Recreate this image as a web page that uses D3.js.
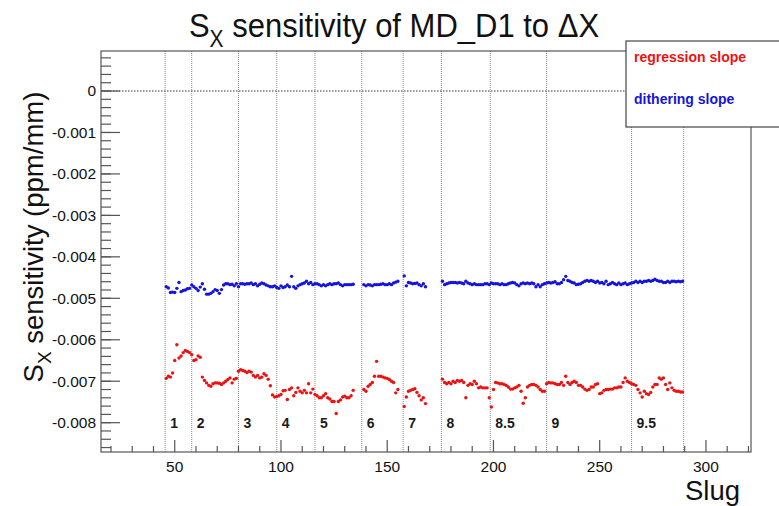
<!DOCTYPE html>
<html lang="en">
<head>
<meta charset="UTF-8">
<script src="https://cdnjs.cloudflare.com/ajax/libs/d3/7.8.5/d3.min.js"></script>
<style>
body { margin: 0; background: white; }
svg { display: block; font-family: "Liberation Sans", Arial, Helvetica, sans-serif; }
</style>
</head>
<body>
<script>
// slope values in units of 1e-3 ppm/mm, one point per slug, runs start at runStart[k]
var runStart = [46, 139, 158, 176];

var regression1 = [
  -6.93, -6.88, -6.90, -6.80, -6.50, -6.12, -6.44, -6.39, -6.31, -6.26,
  -6.28, -6.31, -6.36, -6.50, -6.48, -6.39, -6.42, -6.90, -6.98, -7.04,
  -7.10, -7.12, -7.06, -7.04, -7.04, -7.05, -7.08, -7.04, -7.00, -6.96,
  -6.92, -7.04, -6.95, -6.93, -6.76, -6.72, -6.74, -6.76, -6.79, -6.76,
  -6.78, -6.86, -6.90, -6.86, -6.92, -6.90, -6.82, -6.86, -6.95, -7.11,
  -7.33, -7.38, -7.37, -7.35, -7.32, -7.23, -7.22, -7.44, -7.20, -7.16,
  -7.35, -7.27, -7.16, -7.24, -7.28, -7.22, -7.28, -7.06, -7.28, -7.19,
  -7.32, -7.35, -7.40, -7.40, -7.35, -7.30, -7.40, -7.43, -7.49, -7.49,
  -7.78, -7.49, -7.45, -7.38, -7.36, -7.40, -7.40, -7.35, -7.22];
var regression2 = [
  -7.20, -7.24, -7.12, -7.08, -7.03, -6.88, -6.52, -6.88, -6.88, -6.90,
  -6.92, -6.93, -6.96, -7.00, -7.03, -7.28, -7.20];
var regression3 = [
  -7.61, -7.38, -7.24, -7.22, -7.20, -7.18, -7.27, -7.35, -7.45, -7.40, -7.54];
var regression4 = [
  -6.95, -7.03, -7.06, -7.03, -7.06, -7.00, -7.03, -6.98, -7.00, -6.98,
  -7.03, -7.40, -7.10, -7.06, -7.08, -7.00, -7.06, -7.16, -7.14, -7.16,
  -7.16, -7.16, -7.40, -7.62, -7.20, -7.03, -7.04, -7.06, -7.06, -7.08,
  -7.10, -7.14, -7.19, -7.19, -7.16, -7.14, -7.10, -7.24, -7.53, -7.40,
  -7.14, -7.10, -7.08, -7.08, -7.10, -7.14, -7.20, -7.24, -7.24, -7.06,
  -7.03, -7.04, -7.04, -7.06, -7.08,
  -7.08, -7.03, -7.10, -6.88, -7.03, -7.08, -7.03, -7.00, -7.03, -7.10,
  -7.10, -7.14, -7.19, -7.22, -7.20, -7.14, -7.14, -7.08, -7.06, -7.30,
  -7.28, -7.22, -7.20, -7.20, -7.19, -7.19, -7.16, -7.16, -7.14, -7.14,
  -7.03, -6.92, -7.00, -7.03, -7.06, -7.08, -7.10, -7.20, -7.28, -7.38,
  -7.24, -7.30, -7.32, -7.27, -7.14, -7.08, -7.08, -6.92, -6.95, -6.92,
  -7.08, -7.20, -7.04, -7.16, -7.22, -7.24, -7.24, -7.26, -7.26];

var dithering1 = [
  -4.72, -4.75, -4.86, -4.85, -4.86, -4.76, -4.62, -4.84, -4.81, -4.80,
  -4.77, -4.76, -4.68, -4.72, -4.76, -4.81, -4.73, -4.65, -4.78, -4.90,
  -4.90, -4.88, -4.84, -4.79, -4.81, -4.88, -4.79, -4.68, -4.65, -4.65,
  -4.67, -4.66, -4.70, -4.65, -4.72, -4.65, -4.65, -4.66, -4.65, -4.65,
  -4.63, -4.67, -4.65, -4.70, -4.66, -4.63, -4.65, -4.68, -4.70, -4.72,
  -4.72, -4.70, -4.74, -4.76, -4.70, -4.74, -4.72, -4.68, -4.72, -4.47,
  -4.72, -4.76, -4.70, -4.67, -4.65, -4.63, -4.59, -4.65, -4.62, -4.67,
  -4.65, -4.65, -4.67, -4.70, -4.67, -4.70, -4.67, -4.65, -4.67, -4.65,
  -4.65, -4.63, -4.67, -4.70, -4.67, -4.67, -4.67, -4.67, -4.66];
var dithering2 = [
  -4.67, -4.70, -4.67, -4.68, -4.70, -4.67, -4.67, -4.67, -4.66, -4.65,
  -4.67, -4.67, -4.65, -4.67, -4.63, -4.61, -4.59];
var dithering3 = [
  -4.46, -4.70, -4.62, -4.63, -4.65, -4.64, -4.63, -4.67, -4.70, -4.65, -4.72];
var dithering4 = [
  -4.59, -4.67, -4.65, -4.63, -4.62, -4.62, -4.62, -4.63, -4.62, -4.63,
  -4.65, -4.59, -4.63, -4.65, -4.67, -4.65, -4.67, -4.67, -4.67, -4.67,
  -4.65, -4.65, -4.67, -4.63, -4.65, -4.65, -4.65, -4.67, -4.65, -4.67,
  -4.67, -4.65, -4.63, -4.62, -4.63, -4.67, -4.70, -4.65, -4.63, -4.65,
  -4.63, -4.65, -4.63, -4.65, -4.72, -4.67, -4.72, -4.67, -4.65, -4.63,
  -4.62, -4.63, -4.62, -4.60, -4.65,
  -4.65, -4.62, -4.55, -4.47, -4.57, -4.59, -4.62, -4.63, -4.67, -4.66,
  -4.65, -4.62, -4.59, -4.57, -4.59, -4.57, -4.59, -4.62, -4.59, -4.63,
  -4.62, -4.65, -4.59, -4.67, -4.65, -4.62, -4.65, -4.67, -4.63, -4.67,
  -4.65, -4.63, -4.67, -4.65, -4.63, -4.62, -4.59, -4.62, -4.59, -4.62,
  -4.59, -4.59, -4.57, -4.59, -4.57, -4.54, -4.57, -4.59, -4.59, -4.62,
  -4.62, -4.59, -4.62, -4.59, -4.59, -4.60, -4.59, -4.60, -4.59];

var slugBounds = [45.5, 58, 80, 98, 116, 138, 157.5, 175.5, 198.5, 225, 265, 289.5];
var slugLabels = ["1", "2", "3", "4", "5", "6", "7", "8", "8.5", "9", "9.5"];
var xTicks = [50, 100, 150, 200, 250, 300];
var yTicks = [0, -0.001, -0.002, -0.003, -0.004, -0.005, -0.006, -0.007, -0.008];

var margin = {top: 51, left: 101},
    width = 650,
    height = 401;

var x = d3.scaleLinear().domain([15.3, 321.2]).range([0, width]);
var y = d3.scaleLinear().domain([-0.008707, 0.000965]).range([height, 0]);

function toPoints(runs) {
  var pts = [];
  runs.forEach(function(vals, k) {
    vals.forEach(function(v, i) {
      pts.push({slug: runStart[k] + i, value: v * 1e-3});
    });
  });
  return pts;
}
var regPts = toPoints([regression1, regression2, regression3, regression4]);
var ditPts = toPoints([dithering1, dithering2, dithering3, dithering4]);

var svg = d3.select("body").append("svg")
    .attr("width", 779)
    .attr("height", 506);

// title
var title = svg.append("text")
    .attr("transform", "translate(394,37) scale(1,1.1)")
    .attr("text-anchor", "middle")
    .style("font-size", "31px")
    .attr("fill", "#111");
title.append("tspan").text("S");
title.append("tspan").attr("dy", 9).style("font-size", "21px").text("X");
title.append("tspan").attr("dy", -9).text(" sensitivity of MD_D1 to \u0394X");

var g = svg.append("g")
    .attr("transform", "translate(" + margin.left + "," + margin.top + ")");

// slug boundaries
g.selectAll(".bound")
  .data(slugBounds)
  .enter().append("line")
    .attr("class", "bound")
    .attr("x1", d => x(d)).attr("x2", d => x(d))
    .attr("y1", 0).attr("y2", height)
    .attr("stroke", "#8a8a8a")
    .attr("stroke-width", 1)
    .attr("stroke-dasharray", "1,1");

// zero line
g.append("line")
    .attr("x1", 0).attr("x2", width)
    .attr("y1", y(0)).attr("y2", y(0))
    .attr("stroke", "#333")
    .attr("stroke-width", 1)
    .attr("stroke-dasharray", "1.5,1.5");

g.selectAll(".slabel")
  .data(slugLabels)
  .enter().append("text")
    .attr("class", "slabel")
    .attr("x", (d, i) => x(slugBounds[i]) + 5)
    .attr("y", 377)
    .style("font-size", "14px")
    .style("font-weight", "bold")
    .attr("fill", "#1a1a1a")
    .text(d => d);

g.selectAll(".reg")
  .data(regPts)
  .enter().append("circle")
    .attr("class", "reg")
    .attr("cx", d => x(d.slug))
    .attr("cy", d => y(d.value))
    .attr("r", 1.7)
    .attr("fill", "#ee1111");

g.selectAll(".dit")
  .data(ditPts)
  .enter().append("circle")
    .attr("class", "dit")
    .attr("cx", d => x(d.slug))
    .attr("cy", d => y(d.value))
    .attr("r", 1.7)
    .attr("fill", "#1414dd");

// frame
g.append("rect")
    .attr("width", width)
    .attr("height", height)
    .attr("fill", "none")
    .attr("stroke", "#555")
    .attr("stroke-width", 1.2);

// x ticks (inside, pointing up)
var xMinor = d3.range(2, 33).map(i => i * 10);
g.selectAll(".xminor")
  .data(xMinor)
  .enter().append("line")
    .attr("x1", d => x(d)).attr("x2", d => x(d))
    .attr("y1", height)
    .attr("y2", d => xTicks.indexOf(d) >= 0 ? height - 12 : height - 6)
    .attr("stroke", "#555")
    .attr("stroke-width", 1.2);

g.selectAll(".xlab")
  .data(xTicks)
  .enter().append("text")
    .attr("x", d => x(d))
    .attr("y", height + 20)
    .attr("text-anchor", "middle")
    .style("font-size", "15.5px")
    .attr("fill", "#111")
    .text(d => d);

// y ticks (inside, pointing right)
var yMinor = d3.range(-43, 5).map(i => i * 0.0002);
g.selectAll(".yminor")
  .data(yMinor)
  .enter().append("line")
    .attr("x1", 0)
    .attr("x2", 10)
    .attr("y1", d => y(d)).attr("y2", d => y(d))
    .attr("stroke", "#555")
    .attr("stroke-width", 1.2);

g.selectAll(".ymajor")
  .data(yTicks)
  .enter().append("line")
    .attr("x1", 0)
    .attr("x2", 19)
    .attr("y1", d => y(d)).attr("y2", d => y(d))
    .attr("stroke", "#555")
    .attr("stroke-width", 1.2);

g.selectAll(".ylab")
  .data(yTicks)
  .enter().append("text")
    .attr("x", -5)
    .attr("y", d => y(d))
    .attr("dy", "0.35em")
    .attr("text-anchor", "end")
    .style("font-size", "15.5px")
    .attr("fill", "#111")
    .text(d => d === 0 ? "0" : d.toFixed(3));

// axis titles
var ytitle = svg.append("text")
    .attr("transform", "translate(43,237) rotate(-90)")
    .attr("text-anchor", "middle")
    .style("font-size", "27.5px")
    .attr("fill", "#111");
ytitle.append("tspan").text("S");
ytitle.append("tspan").attr("dy", 8).style("font-size", "19px").text("X");
ytitle.append("tspan").attr("dy", -8).text(" sensitivity (ppm/mm)");

svg.append("text")
    .attr("x", 740)
    .attr("y", 500)
    .attr("text-anchor", "end")
    .style("font-size", "27.5px")
    .attr("fill", "#111")
    .text("Slug");

// legend
var legend = svg.append("g");
legend.append("rect")
    .attr("x", 626)
    .attr("y", 41)
    .attr("width", 170)
    .attr("height", 86)
    .attr("fill", "white")
    .attr("stroke", "#444")
    .attr("stroke-width", 1.2);
legend.append("text")
    .attr("x", 634)
    .attr("y", 62)
    .style("font-size", "14px")
    .style("font-weight", "bold")
    .attr("fill", "#ee1111")
    .text("regression slope");
legend.append("text")
    .attr("x", 634)
    .attr("y", 104)
    .style("font-size", "14px")
    .style("font-weight", "bold")
    .attr("fill", "#1414dd")
    .text("dithering slope");
</script>
</body>
</html>
